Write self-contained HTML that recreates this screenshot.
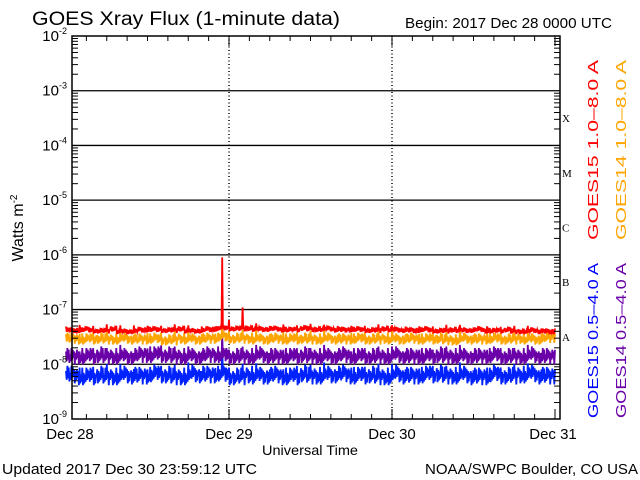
<!DOCTYPE html>
<html><head><meta charset="utf-8"><style>
body{margin:0;background:#fff;}
svg{display:block;font-family:"Liberation Sans",sans-serif;}
</style></head><body>
<svg id="chart" width="640" height="480" viewBox="0 0 640 480" xmlns="http://www.w3.org/2000/svg">
<rect x="0" y="0" width="640" height="480" fill="#fff"/>
<text x="32" y="25" font-size="19" textLength="308" lengthAdjust="spacingAndGlyphs" fill="#000">GOES Xray Flux (1-minute data)</text>
<text x="405" y="28" font-size="15" textLength="207" lengthAdjust="spacingAndGlyphs" fill="#000">Begin:  2017 Dec 28 0000 UTC</text>
<text x="310" y="455" font-size="14" textLength="96" lengthAdjust="spacingAndGlyphs" text-anchor="middle" fill="#000">Universal Time</text>
<text transform="translate(23,228) rotate(-90)" font-size="16" text-anchor="middle" fill="#000">Watts m<tspan font-size="10" dy="-6">-2</tspan></text>
<text x="2" y="474" font-size="15" textLength="255" lengthAdjust="spacingAndGlyphs" fill="#000">Updated 2017 Dec 30 23:59:12 UTC</text>
<text x="425" y="474" font-size="15" textLength="213" lengthAdjust="spacingAndGlyphs" fill="#000">NOAA/SWPC Boulder, CO USA</text>
<g id="grid"></g>
<g id="series"></g>
<g id="axes"></g>
<text transform="translate(598,240) rotate(-90)" font-size="15" textLength="180" lengthAdjust="spacingAndGlyphs" fill="#ff0000">GOES15 1.0–8.0 A</text>
<text transform="translate(626,240) rotate(-90)" font-size="15" textLength="180" lengthAdjust="spacingAndGlyphs" fill="#ffa500">GOES14 1.0–8.0 A</text>
<text transform="translate(598,418) rotate(-90)" font-size="15" textLength="155" lengthAdjust="spacingAndGlyphs" fill="#0000ff">GOES15 0.5–4.0 A</text>
<text transform="translate(626,418) rotate(-90)" font-size="15" textLength="155" lengthAdjust="spacingAndGlyphs" fill="#6a00a8">GOES14 0.5–4.0 A</text>
</svg>
<script>
// values in units of 1e-9 W/m^2, hourly samples from Dec 28 00:00
const hours = 72;
const goes15Long = [48,42,50,44,47,41,49,45,46,40,50,43,48,44,47,42,49,45,46,41,48,44,47,800,60,45,100,46,50,44,49,45,51,43,48,46,50,44,47,45,49,43,48,44,47,42,49,45,46,43,48,42,47,44,46,41,48,43,47,42,46,44,47,41,45,43,46,40,45,42,44,40,43];
const goes14Long = [34,30,33,29,34,30,33,29,34,30,33,29,34,30,33,28,34,30,33,29,34,30,33,50,36,30,35,30,34,29,34,30,35,29,33,30,34,29,34,30,33,29,34,30,33,29,34,30,33,29,34,30,33,29,34,30,33,28,34,30,33,29,34,30,33,29,33,30,33,29,34,31,33];
const goes15Short = [7,6.5,7.5,6,7.2,6.5,7.5,6,7,6.5,7.6,6.2,7,6.8,7.5,6.5,7.2,6,7.5,6.8,7,6.5,7.4,18,7,6,7.5,6.5,7.2,6.2,7.5,6.5,7,6,7.5,6.8,7.2,6.2,7.5,6.5,7,6.8,7.5,6.2,7.2,6.5,7.5,6,7,6.8,7.5,6.2,7.2,6.5,7.5,6.8,7,6.2,7.5,6.5,7.2,6,7.5,6.8,7,6.2,7.5,6.5,7.2,6.8,7.5,6.2,7];
const goes14Short = [16,14,15,14,16,15,15,14,16,14,15,15,17,15,18,15,16,14,15,14,16,15,15,25,15,14,16,14,16,15,15,14,16,14,16,15,15,14,16,14,16,15,15,14,16,14,16,14,15,15,16,14,16,14,15,15,16,14,16,14,15,14,16,15,16,14,15,14,16,15,15,14,16];
const bandLetters = ["X","M","C","B","A"];
const dayLabels = ["Dec 28","Dec 29","Dec 30","Dec 31"];
const decades = [-2,-3,-4,-5,-6,-7,-8,-9];

const NS="http://www.w3.org/2000/svg";
const L=72,R=560,T=36,B=419,X0=66,DAY=163;
const y=v=>T+(-2-Math.log10(v))*(B-T)/7;
const ye=e=>T+(-2-e)*(B-T)/7;
const x=h=>X0+DAY*h/24;
function mk(tag,parent,attrs){const e=document.createElementNS(NS,tag);for(const k in attrs)e.setAttribute(k,attrs[k]);parent.appendChild(e);return e;}
const grid=document.getElementById('grid'),axes=document.getElementById('axes'),ser=document.getElementById('series');

decades.forEach(d=>{
  if(d===-2||d===-9)return;
  const l=mk('line',grid,{x1:L,x2:R,y1:ye(d),y2:ye(d),stroke:'#000','stroke-width':1.3});
  
  
});
[1,2].forEach(dd=>{
  const xx=x(dd*24);
  const g=mk('line',grid,{x1:xx,x2:xx,y1:T,y2:B,stroke:'#000','stroke-width':1.5,'stroke-dasharray':'1 2.5'});
  
  
});
const box=mk('rect',axes,{x:L,y:T,width:R-L,height:B-T,fill:'none',stroke:'#000','stroke-width':1.5});


decades.forEach(d=>{
  const yy=ye(d);
  const t=mk('text',axes,{x:L-5,y:yy+5,'font-size':15,'text-anchor':'end'});
  
  
  t.innerHTML='10<tspan font-size="9" dy="-7">'+d+'</tspan>';
  if(d>-9){for(let m=2;m<10;m++){const my=ye(d-1+Math.log10(m));const len=6;
    [L,R-len].forEach(xx=>{const tk=mk('line',axes,{x1:xx,x2:xx+len,y1:my,y2:my,stroke:'#000'});
      
      });}}
});
for(let h=0;h<=72;h+=3){
  const xx=x(h);if(xx<L||xx>R)continue;
  const len=h%24===0?10:5;
  [[B,B-len],[T,T+len]].forEach(p=>{const tk=mk('line',axes,{x1:xx,x2:xx,y1:p[0],y2:p[1],stroke:'#000'});
    
    });
}
dayLabels.forEach((s,i)=>{
  const t=mk('text',axes,{x:Math.min(Math.max(x(i*24),70),553),y:439,'font-size':15,'text-anchor':'middle'});
  
  
  t.textContent=s;
});
bandLetters.forEach((s,i)=>{
  const t=mk('text',axes,{x:R+2,y:ye(-3-i-0.5)+4,'font-size':11,'font-family':'Liberation Serif,serif'});
  
  
  t.textContent=s;
});
function draw(arr,color,name,amp){
  const n=arr.length, sub=10, pts=[];
  const step=hours/(n-1);
  for(let i=0;i<n;i++){
    const nb=Math.min(arr[i],arr[i-1]===undefined?arr[i]:arr[i-1],arr[i+1]===undefined?arr[i]:arr[i+1]);
    for(let j=0;j<sub;j++){
      const h=i*step+(j-sub/2)*step/sub;
      if(h<0||h>hours)continue;
      const base=(j===sub/2)?arr[i]:nb;
      const sgn=(j%2?1:-1)*(1+((j*7+i*3)%5))/5;
      const v=base*Math.pow(10,amp*sgn);
      pts.push(x(h).toFixed(1)+','+y(v*1e-9).toFixed(1));
    }
  }
  const p=mk('polyline',ser,{points:pts.join(' '),fill:'none',stroke:color,'stroke-width':1.8});
  
  
}
draw(goes15Short,'#0022ff','series-goes15-short',0.16);
draw(goes14Short,'#6a00a8','series-goes14-short',0.15);
draw(goes14Long,'#ffa500','series-goes14-long',0.1);
draw(goes15Long,'#ff0000','series-goes15-long',0.05);
</script>
</body></html>
